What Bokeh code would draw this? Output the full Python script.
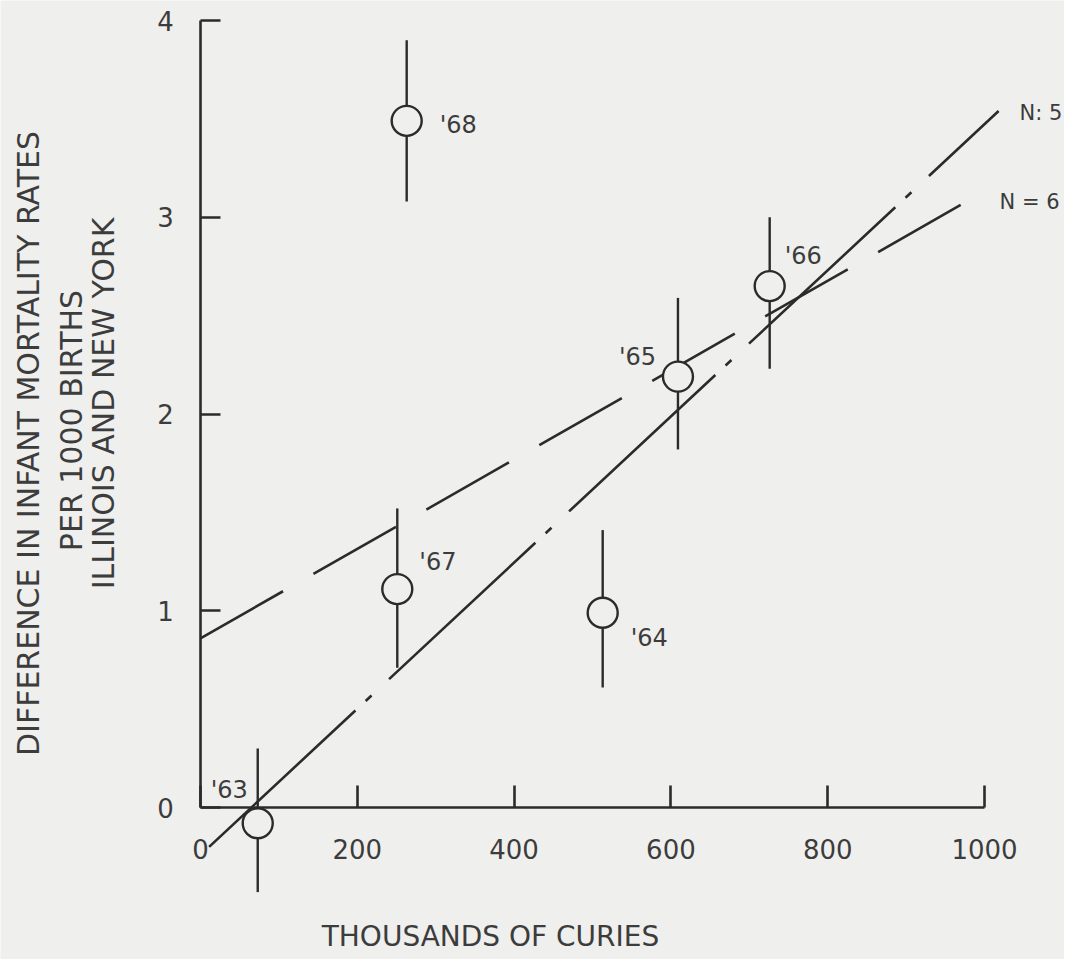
import math
from bokeh.plotting import figure
from bokeh.models import Range1d, LinearAxis, FixedTicker, ColumnDataSource
from bokeh.core.properties import value
from bokeh.embed import file_html
from bokeh.resources import INLINE

# ---- data ----
years = ["'63", "'64", "'65", "'66", "'67", "'68"]
curies = [73, 513, 609, 726, 251, 263]            # thousands of curies
diff = [-0.08, 0.99, 2.19, 2.65, 1.11, 3.49]      # difference in infant mortality
err_low = [-0.43, 0.61, 1.82, 2.23, 0.71, 3.08]
err_high = [0.30, 1.41, 2.59, 3.00, 1.52, 3.90]

fit_n5_x = [11, 1018]
fit_n5_y = [-0.20, 3.54]
fit_n6_x = [0, 995]
fit_n6_y = [0.86, 3.12]
fit_labels = ["N: 5", "N = 6"]

x_ticks = [0, 200, 400, 600, 800, 1000]
x_tick_labels = ["0", "200", "400", "600", "800", "1000"]
y_ticks = [0, 1, 2, 3, 4]
y_tick_labels = ["0", "1", "2", "3", "4"]

x_title = "THOUSANDS OF CURIES"
y_title_lines = ["DIFFERENCE IN INFANT MORTALITY RATES", "PER 1000 BIRTHS", "ILLINOIS AND NEW YORK"]

# ---- styling / layout ----
BG = "#efefed"
INK = "#2b2b2b"
TXT = "#3c3c3c"
FONT = "DejaVu Sans"

W, H = 1064, 959
X0PX, XS = 200, 0.784      # canvas px of x=0, px per unit
Y0PX, YS = 807, 196.75     # canvas px of y=0, px per unit


def dx(px):
    return (px - X0PX) / XS


def dy(py):
    return (Y0PX - py) / YS


p = figure(width=W, height=H, x_range=Range1d(dx(0), dx(W)), y_range=Range1d(dy(H), dy(0)),
           output_backend="svg", toolbar_location=None,
           x_axis_location=None, y_axis_location=None)
p.min_border_left = 0
p.min_border_right = 0
p.min_border_top = 0
p.min_border_bottom = 0
p.background_fill_color = BG
p.border_fill_color = BG
p.outline_line_color = None
p.xgrid.visible = False
p.ygrid.visible = False

xaxis = LinearAxis(fixed_location=0, bounds=(0, 1000), ticker=FixedTicker(ticks=x_ticks))
yaxis = LinearAxis(fixed_location=0, bounds=(0, 4), ticker=FixedTicker(ticks=y_ticks))
for ax in (xaxis, yaxis):
    ax.axis_line_color = INK
    ax.axis_line_width = 2.6
    ax.major_tick_line_color = INK
    ax.major_tick_line_width = 2.6
    ax.major_tick_out = 0
    ax.minor_tick_line_color = None
    ax.major_label_text_font_size = "0px"
    ax.major_label_text_color = None
    ax.major_label_standoff = 0
xaxis.major_tick_in = 22
yaxis.major_tick_in = 20
p.add_layout(xaxis, "below")
p.add_layout(yaxis, "left")

# tick labels (placed at the tick values)
p.text(x=x_ticks, y=[dy(848)] * len(x_ticks), text=x_tick_labels,
       text_font=value(FONT), text_font_size="26px", text_color=TXT,
       text_align="center", text_baseline="middle")
p.text(x=[dx(165)] * len(y_ticks), y=y_ticks, text=y_tick_labels,
       text_font=value(FONT), text_font_size="26px", text_color=TXT,
       text_align="center", text_baseline="middle")

# fitted lines
p.line(fit_n6_x, fit_n6_y, line_color=INK, line_width=2.6, line_dash="95 35")
p.line(fit_n5_x, fit_n5_y, line_color=INK, line_width=2.6, line_dash="200 14 8 24")

# error bars and points
src = ColumnDataSource(dict(x=curies, y=diff, lo=err_low, hi=err_high, t=years,
                            ox=[-47, 28, -59, 15, 22, 33], oy=[-33, 25, -20, -30, -27, 4]))
p.segment(x0="x", y0="lo", x1="x", y1="hi", source=src, line_color=INK, line_width=2.4)
p.scatter(x="x", y="y", source=src, marker="circle", size=30, fill_color=BG,
          line_color=INK, line_width=2.4)
p.text(x="x", y="y", text="t", source=src, x_offset="ox", y_offset="oy",
       text_font=value(FONT), text_font_size="24px", text_color=TXT,
       text_align="left", text_baseline="middle")

# fit labels
fsrc = ColumnDataSource(dict(x=[fit_n5_x[1], fit_n6_x[1]], y=[fit_n5_y[1], fit_n6_y[1]],
                             t=fit_labels, ox=[21, 19], oy=[2, 8]))
p.text(x="x", y="y", text="t", source=fsrc, x_offset="ox", y_offset="oy",
       text_font=value(FONT), text_font_size="21px", text_color=TXT,
       text_align="left", text_baseline="middle")

# axis titles
p.text(x=[dx(490)], y=[dy(936)], text=[x_title],
       text_font=value(FONT), text_font_size="28px", text_color=TXT,
       text_align="center", text_baseline="middle")
p.text(x=[dx(28), dx(71), dx(103)], y=[dy(443), dy(420), dy(403)], text=y_title_lines,
       angle=math.pi / 2,
       text_font=value(FONT), text_font_size="30px", text_color=TXT,
       text_align="center", text_baseline="middle")

open("out.html", "w").write(file_html(p, INLINE))
